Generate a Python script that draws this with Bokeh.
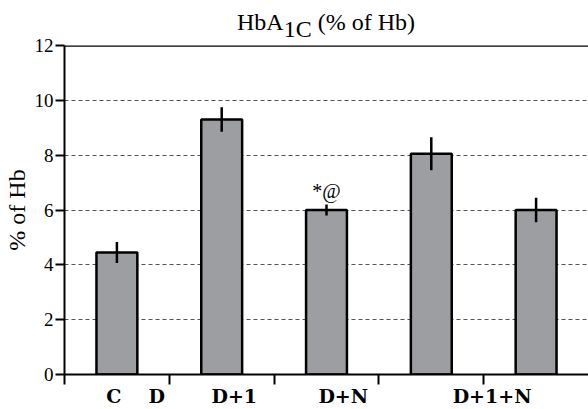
from bokeh.plotting import figure
from bokeh.models import (FixedTicker, Span, ColumnDataSource, Range1d, Div,
                          CustomJSTickFormatter)
from bokeh.layouts import column
from bokeh.core.properties import value
from bokeh.embed import file_html
from bokeh.resources import INLINE

# ---- data ----
categories = ["C", "D", "D+1", "D+N", "D+1+N"]
means = [4.45, 9.3, 6.0, 8.05, 6.0]
errors = [0.38, 0.45, 0.2, 0.6, 0.45]
marks = ["", "", "*@", "", ""]
y_ticks = [0, 2, 4, 6, 8, 10, 12]

SERIF = "Liberation Serif"
idx = list(range(len(categories)))
lo = [m - e for m, e in zip(means, errors)]
hi = [m + e for m, e in zip(means, errors)]
src = ColumnDataSource(dict(x=idx, top=means, lo=lo, hi=hi, mark=marks))

title = Div(
    text='HbA<span style="position:relative; top:7px;">1C</span> (% of Hb)',
    width=588, height=33, margin=0,
    styles={"font-family": SERIF, "font-size": "24px", "line-height": "24px",
            "padding-top": "10px", "padding-left": "64px",
            "text-align": "center", "color": "black", "width": "588px",
            "box-sizing": "border-box", "overflow": "visible",
            "z-index": "10"})

p = figure(width=588, height=376,
           x_range=Range1d(-0.5, len(categories) - 0.5),
           y_range=Range1d(y_ticks[0], y_ticks[-1]),
           output_backend="svg", toolbar_location=None,
           min_border_left=64, min_border_right=0,
           min_border_top=12, min_border_bottom=32, margin=0)
p.outline_line_color = None
p.border_fill_color = None
p.background_fill_color = "white"

p.vbar(x="x", top="top", bottom=0, width=0.39, fill_color="#9d9ea2",
       line_color="black", line_width=2.5, source=src)
p.segment(x0="x", y0="lo", x1="x", y1="hi", line_color="black",
          line_width=2.5, source=src)
p.text(x="x", y="hi", text="mark", text_align="center",
       text_baseline="alphabetic", y_offset=-14,
       text_font=value(SERIF), text_font_size="20px", source=src)

# grid
p.xgrid.visible = False
p.ygrid.ticker = FixedTicker(ticks=y_ticks[1:-1])
p.ygrid.grid_line_color = "#555555"
p.ygrid.grid_line_dash = "4 3"
p.ygrid.grid_line_width = 1
p.add_layout(Span(location=y_ticks[-1], dimension="width",
                  line_color="black", line_width=2.5))

# x axis: boundary ticks as minor ticks, category labels placed as in reference
label_shift = [-0.03, -0.62, -0.88, -0.84, -0.42]
label_pos = [i + s for i, s in zip(idx, label_shift)]
p.xaxis.ticker = FixedTicker(ticks=label_pos, minor_ticks=[i - 0.5 for i in idx])
p.xaxis.formatter = CustomJSTickFormatter(args=dict(labels=categories),
                                          code="return labels[index];")
p.xaxis.major_tick_line_color = None
p.xaxis.major_tick_out = 0
p.xaxis.major_tick_in = 0
p.xaxis.minor_tick_out = 10
p.xaxis.minor_tick_in = 0
p.xaxis.minor_tick_line_width = 2
p.xaxis.minor_tick_line_color = "black"
p.xaxis.axis_line_width = 2
p.xaxis.major_label_standoff = 0
p.xaxis.major_label_text_font = "DejaVu Serif"
p.xaxis.major_label_text_font_style = "bold"
p.xaxis.major_label_text_font_size = "19px"
p.xaxis.major_label_text_color = "black"

# y axis
p.yaxis.ticker = FixedTicker(ticks=y_ticks)
p.yaxis.minor_tick_line_color = None
p.yaxis.major_tick_out = 9
p.yaxis.major_tick_in = 0
p.yaxis.axis_line_width = 2
p.yaxis.major_tick_line_width = 2
p.yaxis.major_label_text_font = SERIF
p.yaxis.major_label_text_font_size = "19px"
p.yaxis.major_label_text_color = "black"
p.yaxis.major_label_standoff = 2
p.yaxis.axis_label = "% of Hb"
p.yaxis.axis_label_text_font = SERIF
p.yaxis.axis_label_text_font_size = "24px"
p.yaxis.axis_label_text_font_style = "normal"
p.yaxis.axis_label_text_color = "black"
p.yaxis.axis_label_standoff = 2

layout = column(title, p, spacing=0, margin=0)
open("out.html", "w").write(file_html(layout, INLINE))
